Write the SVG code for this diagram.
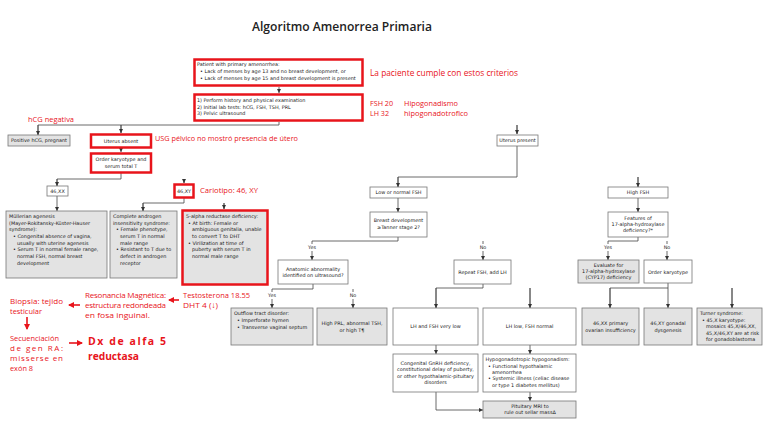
<svg xmlns="http://www.w3.org/2000/svg" width="768" height="433" viewBox="0 0 768 433">
<style>
.t{font-family:"DejaVu Sans",Verdana,sans-serif;font-size:4.9px;fill:#1a1a1a}
.c{text-anchor:middle}
.r{font-family:"Open Sans","Liberation Sans",sans-serif;fill:#e8141b;font-size:8px}
.bx{fill:#fff;stroke:#777;stroke-width:0.8}
.gb{fill:#e3e3e3;stroke:#777;stroke-width:0.8}
.rb{fill:#fff;stroke:#e8141b;stroke-width:2.5}
.ln{fill:none;stroke:#444;stroke-width:0.8}
.rl{fill:none;stroke:#e8141b;stroke-width:1.6}
.title{font-family:"Open Sans","Liberation Sans",sans-serif;font-size:13px;font-weight:600;fill:#222}
.dx{font-size:10.5px;font-weight:700}
</style>
<defs>
<marker id="a" viewBox="0 0 6 6" refX="6" refY="3" markerWidth="4" markerHeight="4" markerUnits="userSpaceOnUse" orient="auto"><path d="M0,0L6,3L0,6z" fill="#333"/></marker>
<marker id="ra" viewBox="0 0 6 6" refX="5" refY="3" markerWidth="6" markerHeight="6" markerUnits="userSpaceOnUse" orient="auto"><path d="M0,0L6,3L0,6z" fill="#e8141b"/></marker>
</defs>
<rect width="768" height="433" fill="#fff"/>
<text class="title" x="252" y="31" textLength="180" lengthAdjust="spacingAndGlyphs">Algoritmo Amenorrea Primaria</text>

<g id="connectors">
<path class="ln" d="M279,87V93" marker-end="url(#a)"/>
<path class="ln" d="M279,122V125H38V135M121,125V133M517,125V134" />
<path class="ln" d="M38,125V135" marker-end="url(#a)"/>
<path class="ln" d="M121,125V133" marker-end="url(#a)"/>
<path class="ln" d="M517,125V134" marker-end="url(#a)"/>
<path class="ln" d="M121,148V152" marker-end="url(#a)"/>
<path class="ln" d="M121,173V179H57V186M184,179V183"/>
<path class="ln" d="M57,179V186" marker-end="url(#a)"/>
<path class="ln" d="M184,179V183" marker-end="url(#a)"/>
<path class="ln" d="M57,196V211" marker-end="url(#a)"/>
<path class="ln" d="M184,198V203H143V211M224,203V209"/>
<path class="ln" d="M143,203V211" marker-end="url(#a)"/>
<path class="ln" d="M224,203V209" marker-end="url(#a)"/>
<path class="ln" d="M517,146V177H398V187M638,177V187"/>
<path class="ln" d="M398,177V187" marker-end="url(#a)"/>
<path class="ln" d="M638,177V187" marker-end="url(#a)"/>
<path class="ln" d="M398,198V212" marker-end="url(#a)"/>
<path class="ln" d="M398,237V241H312V244M483,241V244"/>
<path class="ln" d="M312,251V260" marker-end="url(#a)"/>
<path class="ln" d="M483,251V260" marker-end="url(#a)"/>
<path class="ln" d="M313,284V289H272V292M353,289V292"/>
<path class="ln" d="M272,299V308" marker-end="url(#a)"/>
<path class="ln" d="M353,299V308" marker-end="url(#a)"/>
<path class="ln" d="M483,284V288H436V308M530,288V308"/>
<path class="ln" d="M436,288V308" marker-end="url(#a)"/>
<path class="ln" d="M530,288V308" marker-end="url(#a)"/>
<path class="ln" d="M436,345V354" marker-end="url(#a)"/>
<path class="ln" d="M530,345V354" marker-end="url(#a)"/>
<path class="ln" d="M530,392V401" marker-end="url(#a)"/>
<path class="ln" d="M436,392V410H483" marker-end="url(#a)"/>
<path class="ln" d="M638,198V212" marker-end="url(#a)"/>
<path class="ln" d="M638,237V241H608V244M667,241V244"/>
<path class="ln" d="M608,251V260" marker-end="url(#a)"/>
<path class="ln" d="M667,251V260" marker-end="url(#a)"/>
<path class="ln" d="M668,283V288H610V308M732,288V308"/>
<path class="ln" d="M610,288V308" marker-end="url(#a)"/>
<path class="ln" d="M668,288V308" marker-end="url(#a)"/>
<path class="ln" d="M732,288V308" marker-end="url(#a)"/>
<text class="t c" x="312" y="249">Yes</text>
<text class="t c" x="483" y="249">No</text>
<text class="t c" x="272" y="297">Yes</text>
<text class="t c" x="353" y="297">No</text>
<text class="t c" x="608" y="249">Yes</text>
<text class="t c" x="667" y="249">No</text>
</g>

<g id="criteria">
<rect class="rb" x="194.5" y="59.5" width="168" height="26"/>
<text class="t" x="197" y="66">Patient with primary amenorrhea:</text>
<text class="t" x="200" y="73">• Lack of menses by age 13 and no breast development, or</text>
<text class="t" x="200" y="80">• Lack of menses by age 15 and breast development is present</text>
</g>
<g id="history">
<rect class="rb" x="194.5" y="94.5" width="168" height="26"/>
<text class="t" x="197" y="102">1) Perform history and physical examination</text>
<text class="t" x="197" y="108.5">2) Initial lab tests: hCG, FSH, TSH, PRL</text>
<text class="t" x="197" y="115">3) Pelvic ultrasound</text>
</g>
<g id="pos-hcg"><rect class="gb" x="8" y="135" width="62" height="11"/><text class="t c" x="39" y="142">Positive hCG, pregnant</text></g>
<g id="uterus-absent"><rect class="rb" x="91" y="134.5" width="60" height="13"/><text class="t c" x="121" y="142.5">Uterus absent</text></g>
<g id="order-kt-left"><rect class="rb" x="91" y="153.5" width="60" height="19"/><text class="t c" x="121" y="161">Order karyotype and</text><text class="t c" x="121" y="167.5">serum total T</text></g>
<g id="xx"><rect class="bx" x="47" y="186" width="21" height="10"/><text class="t c" x="57.5" y="192.7">46,XX</text></g>
<g id="xy"><rect class="rb" x="174.5" y="184.5" width="19" height="13"/><text class="t c" x="184" y="192.7">46,XY</text></g>
<g id="mullerian"><rect class="gb" x="6" y="211" width="101" height="67"/>
<text class="t" x="9" y="218">Müllerian agenesis</text>
<text class="t" x="9" y="224.7">(Mayer-Rokitansky-Küster-Hauser</text>
<text class="t" x="9" y="231.4">syndrome):</text>
<text class="t" x="13" y="238">• Congenital absence of vagina,</text>
<text class="t" x="17" y="244.7">usually with uterine agenesis</text>
<text class="t" x="13" y="251.4">• Serum T in normal female range,</text>
<text class="t" x="17" y="258">normal FSH, normal breast</text>
<text class="t" x="17" y="264.7">development</text>
</g>
<g id="cais"><rect class="gb" x="110" y="211" width="67" height="67"/>
<text class="t" x="113" y="218">Complete androgen</text>
<text class="t" x="113" y="224.7">insensitivity syndrome:</text>
<text class="t" x="116" y="231.4">• Female phenotype,</text>
<text class="t" x="120" y="238">serum T in normal</text>
<text class="t" x="120" y="244.7">male range</text>
<text class="t" x="116" y="251.4">• Resistant to T due to</text>
<text class="t" x="120" y="258">defect in androgen</text>
<text class="t" x="120" y="264.7">receptor</text>
</g>
<g id="five-alpha"><rect class="rb" x="182.5" y="210.5" width="85" height="74" style="fill:#e3e3e3"/>
<text class="t" x="186" y="218">5-alpha reductase deficiency:</text>
<text class="t" x="188" y="224.7">• At birth: Female or</text>
<text class="t" x="192" y="231.4">ambiguous genitalia, unable</text>
<text class="t" x="192" y="238">to convert T to DHT</text>
<text class="t" x="188" y="244.7">• Virilization at time of</text>
<text class="t" x="192" y="251.4">puberty with serum T in</text>
<text class="t" x="192" y="258">normal male range</text>
</g>
<g id="uterus-present"><rect class="bx" x="497" y="135" width="41" height="11"/><text class="t c" x="517.5" y="142">Uterus present</text></g>
<g id="low-fsh"><rect class="bx" x="370" y="187" width="57" height="11"/><text class="t c" x="398.5" y="194">Low or normal FSH</text></g>
<g id="breast"><rect class="bx" x="370" y="212" width="57" height="25"/><text class="t c" x="398.5" y="222">Breast development</text><text class="t c" x="398.5" y="229">≥Tanner stage 2?</text></g>
<g id="anatomic"><rect class="bx" x="278" y="260" width="70" height="24"/><text class="t c" x="313" y="270.5">Anatomic abnormality</text><text class="t c" x="313" y="277">identified on ultrasound?</text></g>
<g id="outflow"><rect class="gb" x="231" y="308" width="82" height="37"/>
<text class="t" x="234" y="315">Outflow tract disorder:</text>
<text class="t" x="237" y="322">• Imperforate hymen</text>
<text class="t" x="237" y="329">• Transverse vaginal septum</text>
</g>
<g id="high-prl"><rect class="gb" x="317" y="308" width="70" height="37"/><text class="t c" x="352" y="325">High PRL, abnormal TSH,</text><text class="t c" x="352" y="331.5">or high T¶</text></g>
<g id="repeat"><rect class="bx" x="454" y="260" width="57" height="24"/><text class="t c" x="482.5" y="274">Repeat FSH, add LH</text></g>
<g id="very-low"><rect class="bx" x="393" y="308" width="85" height="37"/><text class="t c" x="435.5" y="328">LH and FSH very low</text></g>
<g id="lh-low"><rect class="bx" x="483" y="308" width="93" height="37"/><text class="t c" x="529.5" y="328">LH low, FSH normal</text></g>
<g id="congenital"><rect class="bx" x="393" y="354" width="85" height="38"/>
<text class="t c" x="435.5" y="365">Congenital GnRH deficiency,</text>
<text class="t c" x="435.5" y="371.3">constitutional delay of puberty,</text>
<text class="t c" x="435.5" y="377.6">or other hypothalamic-pituitary</text>
<text class="t c" x="435.5" y="384">disorders</text>
</g>
<g id="hypo"><rect class="bx" x="483" y="354" width="93" height="38"/>
<text class="t" x="485.5" y="361">Hypogonadotropic hypogonadism:</text>
<text class="t" x="488" y="367.5">• Functional hypothalamic</text>
<text class="t" x="492" y="373.8">amenorrhea</text>
<text class="t" x="488" y="380.3">• Systemic illness (celiac disease</text>
<text class="t" x="492" y="386.6">or type 1 diabetes mellitus)</text>
</g>
<g id="mri"><rect class="gb" x="483" y="401" width="93" height="17"/><text class="t c" x="530" y="408">Pituitary MRI to</text><text class="t c" x="530" y="414">rule out sellar massΔ</text></g>
<g id="high-fsh"><rect class="bx" x="608" y="187" width="60" height="11"/><text class="t c" x="638" y="194">High FSH</text></g>
<g id="features"><rect class="bx" x="608" y="212" width="60" height="25"/><text class="t c" x="638" y="219.5">Features of</text><text class="t c" x="638" y="225.5">17-alpha-hydroxylase</text><text class="t c" x="638" y="231.5">deficiency?*</text></g>
<g id="evaluate"><rect class="gb" x="578" y="260" width="61" height="23"/><text class="t c" x="608.5" y="267">Evaluate for</text><text class="t c" x="608.5" y="273">17-alpha-hydroxylase</text><text class="t c" x="608.5" y="279">(CYP17) deficiency</text></g>
<g id="order-kt-right"><rect class="bx" x="644" y="260" width="48" height="23"/><text class="t c" x="668" y="273.5">Order karyotype</text></g>
<g id="poi"><rect class="gb" x="582" y="308" width="57" height="37"/><text class="t c" x="610.5" y="325">46,XX primary</text><text class="t c" x="610.5" y="331.5">ovarian insufficiency</text></g>
<g id="gonadal"><rect class="gb" x="644" y="308" width="48" height="37"/><text class="t c" x="668" y="325">46,XY gonadal</text><text class="t c" x="668" y="331.5">dysgenesis</text></g>
<g id="turner"><rect class="gb" x="697" y="308" width="65" height="37"/>
<text class="t" x="700" y="315">Turner syndrome:</text>
<text class="t" x="702" y="321.5">• 45,X karyotype:</text>
<text class="t" x="706" y="328">mosaics 45,X/46,XX,</text>
<text class="t" x="706" y="334.5">45,X/46,XY are at risk</text>
<text class="t" x="706" y="341">for gonadoblastoma</text>
</g>

<g id="annotations">
<text class="r" x="370" y="76" textLength="148" lengthAdjust="spacingAndGlyphs" style="font-size:9px">La paciente cumple con estos criterios</text>
<text class="r" x="370" y="106" textLength="23" lengthAdjust="spacingAndGlyphs">FSH 20</text>
<text class="r" x="370" y="116" textLength="19" lengthAdjust="spacingAndGlyphs">LH 32</text>
<text class="r" x="404" y="106" textLength="54" lengthAdjust="spacingAndGlyphs">Hipogonadismo</text>
<text class="r" x="404" y="116" textLength="64" lengthAdjust="spacingAndGlyphs">hipogonadotrofico</text>
<text class="r" x="28" y="122" textLength="46" lengthAdjust="spacingAndGlyphs">hCG negativa</text>
<text class="r" x="155" y="141" textLength="143" lengthAdjust="spacingAndGlyphs">USG pélvico no mostró presencia de útero</text>
<text class="r" x="200" y="193" textLength="58" lengthAdjust="spacingAndGlyphs">Cariotipo: 46, XY</text>
<text class="r" x="183" y="298" textLength="67" lengthAdjust="spacingAndGlyphs">Testosterona 18.55</text>
<text class="r" x="183" y="308" textLength="35" lengthAdjust="spacingAndGlyphs">DHT 4 (↓)</text>
<text class="r" x="85" y="298" textLength="81" lengthAdjust="spacing">Resonancia Magnética:</text>
<text class="r" x="85" y="308" textLength="81" lengthAdjust="spacing">estructura redondeada</text>
<text class="r" x="85" y="318" textLength="65" lengthAdjust="spacingAndGlyphs">en fosa inguinal.</text>
<text class="r" x="10" y="304" textLength="53" lengthAdjust="spacing">Biopsia: tejido</text>
<text class="r" x="10" y="314" textLength="32" lengthAdjust="spacingAndGlyphs">testicular</text>
<text class="r" x="10" y="341" textLength="49" lengthAdjust="spacingAndGlyphs">Secuenciación</text>
<text class="r" x="10" y="351" textLength="53" lengthAdjust="spacing">de gen RA:</text>
<text class="r" x="10" y="361" textLength="53" lengthAdjust="spacing">misserse en</text>
<text class="r" x="10" y="371" textLength="23" lengthAdjust="spacingAndGlyphs">exón 8</text>
<text class="r dx" x="88" y="345" textLength="78" lengthAdjust="spacing">Dx de alfa 5</text>
<text class="r dx" x="88" y="360" textLength="51" lengthAdjust="spacingAndGlyphs">reductasa</text>
<path class="rl" d="M179,300H169" marker-end="url(#ra)"/>
<path class="rl" d="M80,305H69" marker-end="url(#ra)"/>
<path class="rl" d="M27,317V329" marker-end="url(#ra)"/>
<path class="rl" d="M69,343H82" marker-end="url(#ra)"/>
</g>
</svg>
